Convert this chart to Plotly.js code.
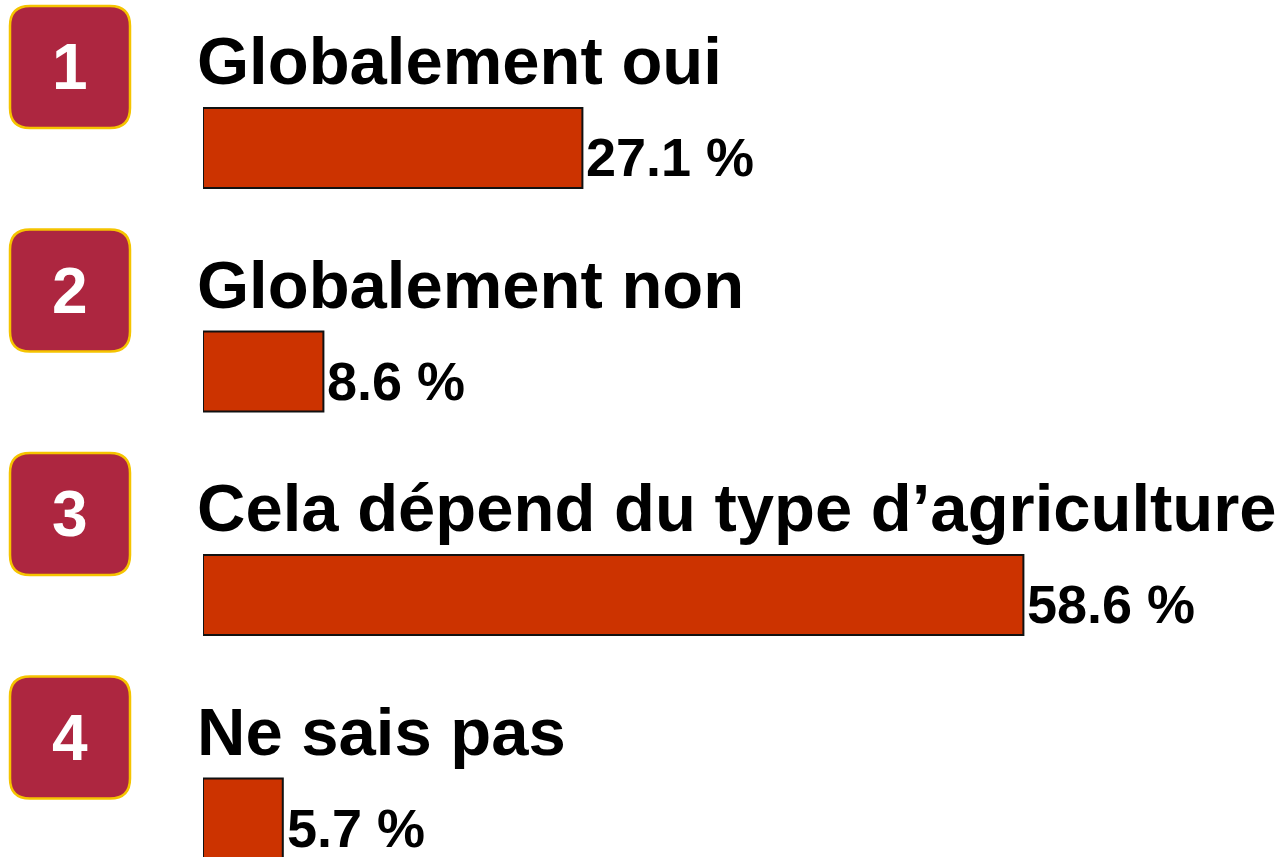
<!DOCTYPE html>
<html>
<head>
<meta charset="utf-8">
<script src="https://cdn.plot.ly/plotly-3.0.1.min.js"></script>
<style>html,body{margin:0;padding:0;background:#fff;}#chart{width:1282px;height:857px;}</style>
</head>
<body>
<div id="chart"></div>
<script>
// ---- data ----
const numbers = ["1", "2", "3", "4"];
const categories = ["Globalement oui", "Globalement non", "Cela dépend du type d’agriculture", "Ne sais pas"];
const values = [27.1, 8.6, 58.6, 5.7];
const valueLabels = ["27.1 %", "8.6 %", "58.6 %", "5.7 %"];

// ---- layout geometry (pixels) ----
const W = 1282, H = 857, ML = 203;
const plotW = W - ML;
const pxPerPct = 14;
const unit = 223.5;           // px per category
const firstCenter = 148;      // px of first bar centre
const yTop = -firstCenter / unit;
const yBot = (categories.length - 1) + (H - (firstCenter + unit * (categories.length - 1))) / unit;
const ypos = categories.map((c, i) => i);

const px2paperX = p => (p - ML) / plotW;
const dy = p => p / unit;

function roundRect(x0, x1, y0, y1, rx, ry) {
  return `M ${x0 + rx} ${y0} L ${x1 - rx} ${y0} Q ${x1} ${y0} ${x1} ${y0 + ry} ` +
         `L ${x1} ${y1 - ry} Q ${x1} ${y1} ${x1 - rx} ${y1} L ${x0 + rx} ${y1} ` +
         `Q ${x0} ${y1} ${x0} ${y1 - ry} L ${x0} ${y0 + ry} Q ${x0} ${y0} ${x0 + rx} ${y0} Z`;
}

const fontFam = "Liberation Sans, Arial, sans-serif";
const shapes = [], annotations = [];
const boxOff = -81, boxHalf = 61, rad = 20;
ypos.forEach((y, i) => {
  const bx0 = px2paperX(10), bx1 = px2paperX(130);
  const by0 = y + dy(boxOff - boxHalf), by1 = y + dy(boxOff + boxHalf);
  shapes.push({
    type: "path", xref: "paper", yref: "y",
    path: roundRect(bx0, bx1, by0, by1, rad / plotW, dy(rad)),
    fillcolor: "#AD2640", line: {color: "#F5C400", width: 2.5}, layer: "above"
  });
  annotations.push({
    xref: "paper", yref: "y", x: px2paperX(70), y: y + dy(boxOff),
    xanchor: "center", yanchor: "middle", showarrow: false,
    text: "<b>" + numbers[i] + "</b>",
    font: {family: fontFam, size: 64, color: "#ffffff"}
  });
  annotations.push({
    xref: "x", yref: "y", x: 0, y: y - dy(40), xshift: -8,
    xanchor: "left", yanchor: "bottom", yshift: 8, showarrow: false,
    text: "<b>" + categories[i] + "</b>",
    font: {family: fontFam, size: 67, color: "#000000"}
  });
  annotations.push({
    xref: "x", yref: "y", x: values[i], y: y, xshift: 2,
    xanchor: "left", yanchor: "middle", yshift: -9, showarrow: false,
    text: "<b>" + valueLabels[i] + "</b>",
    font: {family: fontFam, size: 54, color: "#000000"}
  });
});

const trace = {
  type: "bar", orientation: "h",
  x: values, y: ypos, width: 80 / unit,
  marker: {color: "#CC3300", line: {color: "#111111", width: 2}},
  hoverinfo: "skip"
};

const layout = {
  width: W, height: H,
  margin: {l: ML, r: 0, t: 0, b: 0, pad: 0},
  paper_bgcolor: "#ffffff", plot_bgcolor: "#ffffff",
  showlegend: false,
  xaxis: {range: [0, plotW / pxPerPct], visible: false, fixedrange: true},
  yaxis: {range: [yBot, yTop], visible: false, fixedrange: true},
  shapes: shapes, annotations: annotations
};

Plotly.newPlot("chart", [trace], layout, {displayModeBar: false, staticPlot: true});
</script>
</body>
</html>
